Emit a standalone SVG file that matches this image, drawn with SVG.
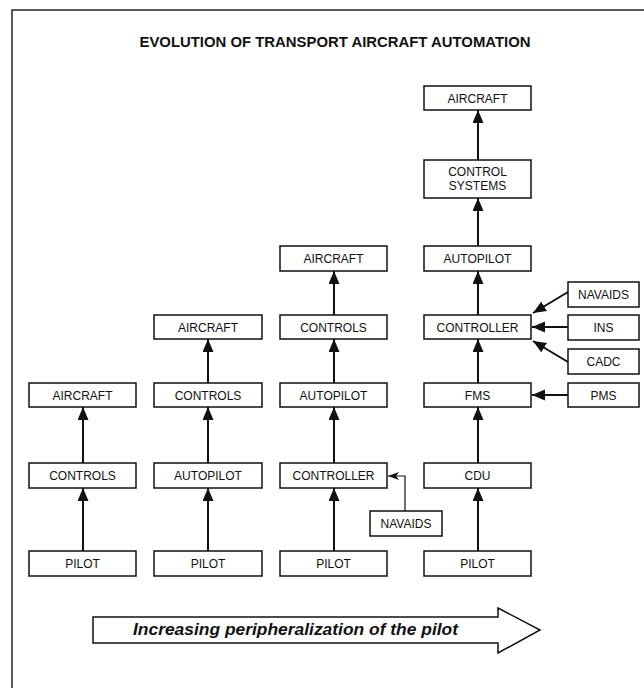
<svg xmlns="http://www.w3.org/2000/svg" width="644" height="688" viewBox="0 0 644 688">
<defs>
<style>
.box{fill:#fff;stroke:#111;stroke-width:1.5}
.t{font-family:"Liberation Sans",Arial,sans-serif;font-size:12px;fill:#111;text-anchor:middle}
.c{stroke:#111;stroke-width:2;fill:none}
.thin{stroke:#111;stroke-width:1.2;fill:none}
</style>
<marker id="ah" markerUnits="userSpaceOnUse" markerWidth="14" markerHeight="12" refX="13" refY="5.5" orient="auto">
<path d="M0,0 L13,5.5 L0,11 z" fill="#111"/>
</marker>
<marker id="ahs" markerUnits="userSpaceOnUse" markerWidth="12" markerHeight="10" refX="11" refY="4" orient="auto">
<path d="M0,0 L11,4 L0,8 L3,4 z" fill="#111"/>
</marker>
</defs>
<rect width="644" height="688" fill="#fff"/>
<path d="M12,688 L12,10 L644,10" fill="none" stroke="#222" stroke-width="1.5"/>
<text x="335" y="47" font-family="'Liberation Sans',Arial,sans-serif" font-size="14" font-weight="bold" text-anchor="middle" fill="#111" textLength="391" lengthAdjust="spacingAndGlyphs">EVOLUTION OF TRANSPORT AIRCRAFT AUTOMATION</text>

<g id="connectors">
<line class="c" x1="83" y1="551" x2="83" y2="488" marker-end="url(#ah)"/>
<line class="c" x1="83" y1="463" x2="83" y2="407" marker-end="url(#ah)"/>
<line class="c" x1="208" y1="551" x2="208" y2="488" marker-end="url(#ah)"/>
<line class="c" x1="208" y1="463" x2="208" y2="407" marker-end="url(#ah)"/>
<line class="c" x1="208" y1="383" x2="208" y2="339" marker-end="url(#ah)"/>
<line class="c" x1="334" y1="551" x2="334" y2="488" marker-end="url(#ah)"/>
<line class="c" x1="334" y1="463" x2="334" y2="407" marker-end="url(#ah)"/>
<line class="c" x1="334" y1="383" x2="334" y2="339" marker-end="url(#ah)"/>
<line class="c" x1="334" y1="315" x2="334" y2="271" marker-end="url(#ah)"/>
<polyline class="thin" points="405,511 405,476 388,476" marker-end="url(#ahs)"/>
<line class="c" x1="478" y1="551" x2="478" y2="488" marker-end="url(#ah)"/>
<line class="c" x1="478" y1="463" x2="478" y2="407" marker-end="url(#ah)"/>
<line class="c" x1="478" y1="383" x2="478" y2="339" marker-end="url(#ah)"/>
<line class="c" x1="478" y1="315" x2="478" y2="271" marker-end="url(#ah)"/>
<line class="c" x1="478" y1="246" x2="478" y2="198" marker-end="url(#ah)"/>
<line class="c" x1="478" y1="160" x2="478" y2="110" marker-end="url(#ah)"/>
<line class="c" x1="568" y1="292" x2="533" y2="313" marker-end="url(#ah)"/>
<line class="c" x1="568" y1="327" x2="532" y2="327" marker-end="url(#ah)"/>
<line class="c" x1="568" y1="362" x2="533" y2="341" marker-end="url(#ah)"/>
<line class="c" x1="568" y1="395" x2="532" y2="395" marker-end="url(#ah)"/>
</g>

<g id="c1-aircraft"><rect class="box" x="29" y="383" width="107" height="24"/><text class="t" x="82.5" y="399.5">AIRCRAFT</text></g>
<g id="c1-controls"><rect class="box" x="29" y="463" width="107" height="25"/><text class="t" x="82.5" y="480">CONTROLS</text></g>
<g id="c1-pilot"><rect class="box" x="29" y="551" width="107" height="25"/><text class="t" x="82.5" y="568">PILOT</text></g>

<g id="c2-aircraft"><rect class="box" x="154" y="315" width="108" height="24"/><text class="t" x="208" y="331.5">AIRCRAFT</text></g>
<g id="c2-controls"><rect class="box" x="154" y="383" width="108" height="24"/><text class="t" x="208" y="399.5">CONTROLS</text></g>
<g id="c2-autopilot"><rect class="box" x="154" y="463" width="108" height="25"/><text class="t" x="208" y="480">AUTOPILOT</text></g>
<g id="c2-pilot"><rect class="box" x="154" y="551" width="108" height="25"/><text class="t" x="208" y="568">PILOT</text></g>

<g id="c3-aircraft"><rect class="box" x="280" y="246" width="107" height="25"/><text class="t" x="333.5" y="263">AIRCRAFT</text></g>
<g id="c3-controls"><rect class="box" x="280" y="315" width="107" height="24"/><text class="t" x="333.5" y="331.5">CONTROLS</text></g>
<g id="c3-autopilot"><rect class="box" x="280" y="383" width="107" height="24"/><text class="t" x="333.5" y="399.5">AUTOPILOT</text></g>
<g id="c3-controller"><rect class="box" x="280" y="463" width="107" height="25"/><text class="t" x="333.5" y="480">CONTROLLER</text></g>
<g id="c3-navaids"><rect class="box" x="370" y="511" width="72" height="25"/><text class="t" x="406" y="528">NAVAIDS</text></g>
<g id="c3-pilot"><rect class="box" x="280" y="551" width="107" height="25"/><text class="t" x="333.5" y="568">PILOT</text></g>

<g id="c4-aircraft"><rect class="box" x="424" y="86" width="107" height="24"/><text class="t" x="477.5" y="102.5">AIRCRAFT</text></g>
<g id="c4-control-systems"><rect class="box" x="424" y="160" width="107" height="38"/><text class="t" x="477.5" y="176">CONTROL</text><text class="t" x="477.5" y="190">SYSTEMS</text></g>
<g id="c4-autopilot"><rect class="box" x="424" y="246" width="107" height="25"/><text class="t" x="477.5" y="263">AUTOPILOT</text></g>
<g id="c4-controller"><rect class="box" x="424" y="315" width="107" height="24"/><text class="t" x="477.5" y="331.5">CONTROLLER</text></g>
<g id="c4-fms"><rect class="box" x="424" y="383" width="107" height="24"/><text class="t" x="477.5" y="399.5">FMS</text></g>
<g id="c4-cdu"><rect class="box" x="424" y="463" width="107" height="25"/><text class="t" x="477.5" y="480">CDU</text></g>
<g id="c4-pilot"><rect class="box" x="424" y="551" width="107" height="25"/><text class="t" x="477.5" y="568">PILOT</text></g>
<g id="c4-navaids"><rect class="box" x="568" y="282" width="71" height="25"/><text class="t" x="603.5" y="299">NAVAIDS</text></g>
<g id="c4-ins"><rect class="box" x="568" y="315" width="71" height="25"/><text class="t" x="603.5" y="332">INS</text></g>
<g id="c4-cadc"><rect class="box" x="568" y="349" width="71" height="25"/><text class="t" x="603.5" y="366">CADC</text></g>
<g id="c4-pms"><rect class="box" x="568" y="383" width="71" height="24"/><text class="t" x="603.5" y="399.5">PMS</text></g>

<g id="big-arrow">
<path d="M93,617 L498,617 L498,608 L540,630 L498,653 L498,643 L93,643 z" fill="#fff" stroke="#111" stroke-width="1.5"/>
<text x="295.5" y="635" font-family="'Liberation Sans',Arial,sans-serif" font-size="17" font-weight="bold" font-style="italic" text-anchor="middle" fill="#111" textLength="325" lengthAdjust="spacingAndGlyphs">Increasing peripheralization of the pilot</text>
</g>
</svg>
